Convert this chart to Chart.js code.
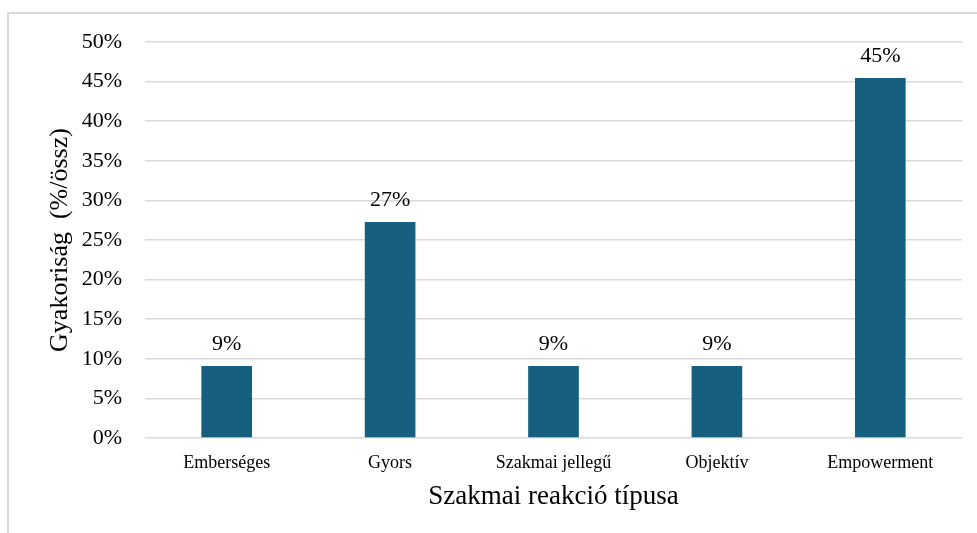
<!DOCTYPE html>
<html>
<head>
<meta charset="utf-8">
<script src="https://cdn.jsdelivr.net/npm/chart.js@4"></script>
<style>
  html, body { margin: 0; padding: 0; background: #fff; }
  #wrap { position: relative; width: 977px; height: 533px; overflow: hidden; }
  #frame { position: absolute; left: 7px; top: 12px; width: 980px; height: 540px;
           border-top: 2px solid #d9d9d9; border-left: 2px solid #d9d9d9; }
  canvas { position: absolute; left: 0; top: 0; }
</style>
</head>
<body>
<div id="wrap">
  <div id="frame"></div>
  <canvas id="chart" width="977" height="533"></canvas>
</div>
<script>
// adatok
const categories = ['Emberséges', 'Gyors', 'Szakmai jellegű', 'Objektív', 'Empowerment'];
const values = [9.09, 27.27, 9.09, 9.09, 45.45];
const yTicks = [0, 5, 10, 15, 20, 25, 30, 35, 40, 45, 50];

const serif = '"Liberation Serif", "Times New Roman", serif';

// címkék az oszlopok fölött
const barLabels = {
    id: 'barLabels',
    afterDatasetsDraw(chart) {
        const ctx = chart.ctx;
        const meta = chart.getDatasetMeta(0);
        ctx.save();
        ctx.font = '22px ' + serif;
        ctx.fillStyle = '#000';
        ctx.textAlign = 'center';
        ctx.textBaseline = 'bottom';
        meta.data.forEach((bar, i) => {
            ctx.fillText(Math.round(values[i]) + '%', bar.x, bar.y - 11);
        });
        ctx.restore();
    }
};

new Chart(document.getElementById('chart').getContext('2d'), {
    type: 'bar',
    data: {
        labels: categories,
        datasets: [{
            data: values,
            backgroundColor: '#175f7f',
            barPercentage: 0.31,
            categoryPercentage: 1
        }]
    },
    options: {
        responsive: false,
        animation: false,
        layout: { padding: { left: 45, right: 15, top: 42, bottom: 0 } },
        plugins: { legend: { display: false }, tooltip: { enabled: false } },
        scales: {
            x: {
                grid: { display: false },
                border: { display: false },
                ticks: { color: '#000', font: { family: serif, size: 18 }, padding: 6, maxRotation: 0 },
                title: { display: true, text: 'Szakmai reakció típusa', color: '#000',
                         font: { family: serif, size: 27 }, padding: { top: 0, bottom: 20 } },
                afterFit: (s) => { s.height = 95; }
            },
            y: {
                min: 0, max: 50,
                afterBuildTicks: (s) => { s.ticks = yTicks.map(v => ({ value: v })); },
                grid: { color: '#d9d9d9', lineWidth: 1.5, drawTicks: false },
                border: { display: false },
                ticks: { color: '#000', font: { family: serif, size: 22 }, padding: 23,
                         callback: (v) => v + '%' },
                title: { display: true, text: 'Gyakoriság  (%/össz)', color: '#000',
                         font: { family: serif, size: 26 }, padding: 0 },
                afterFit: (s) => { s.width = 100; }
            }
        }
    },
    plugins: [barLabels]
});
</script>
</body>
</html>
